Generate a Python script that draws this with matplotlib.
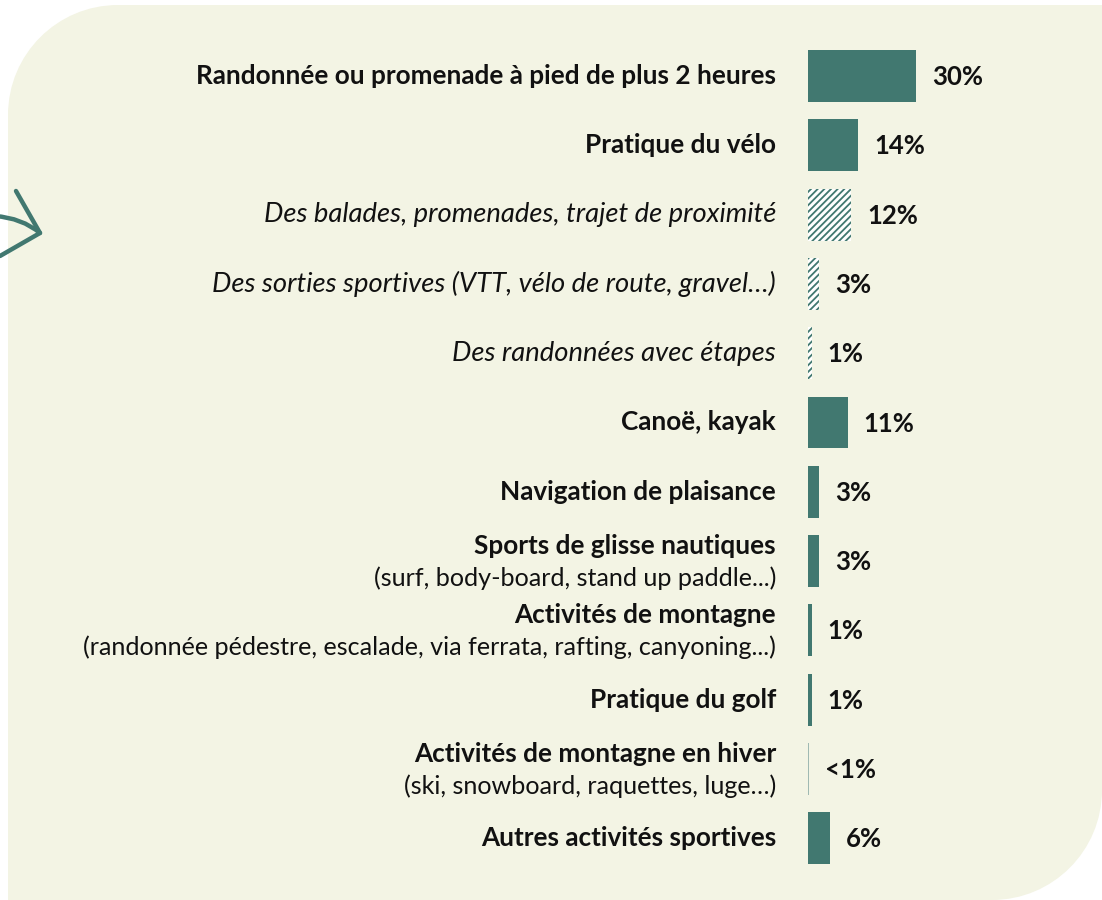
import matplotlib
matplotlib.use("Agg")
from matplotlib import pyplot as plt
from matplotlib.path import Path
from matplotlib.patches import PathPatch
import numpy as np

# activities and share of respondents (%)
labels = [
    "Randonnée ou promenade à pied de plus 2 heures",
    "Pratique du vélo",
    "Des balades, promenades, trajet de proximité",
    "Des sorties sportives (VTT, vélo de route, gravel…)",
    "Des randonnées avec étapes",
    "Canoë, kayak",
    "Navigation de plaisance",
    "Sports de glisse nautiques",
    "Activités de montagne",
    "Pratique du golf",
    "Activités de montagne en hiver",
    "Autres activités sportives",
]
details = ["", "", "", "", "", "", "",
           "(surf, body-board, stand up paddle...)",
           "(randonnée pédestre, escalade, via ferrata, rafting, canyoning...)",
           "",
           "(ski, snowboard, raquettes, luge…)",
           ""]
values = [30, 14, 12, 3, 1, 11, 3, 3, 1, 1, 0.3, 6]
value_text = ["30%", "14%", "12%", "3%", "1%", "11%", "3%", "3%", "1%", "1%", "<1%", "6%"]
# sub-items of "Pratique du vélo"
sub_rows = [2, 3, 4]

teal = "#417870"
cream = "#F3F4E4"
ink = "#111111"
font = "Lato"

W, H = 1102, 900
fig = plt.figure(figsize=(W / 100, H / 100), dpi=100, facecolor="white")

# background panel with rounded corners + arrow tip, in pixel coords
bg = fig.add_axes([0, 0, 1, 1], zorder=0)
bg.set_xlim(0, W)
bg.set_ylim(H, 0)
bg.axis("off")

r = 110
k = 0.5523
verts = [
    (8, H), (8, 5 + r),
    (8, 5 + r * (1 - k)), (8 + r * (1 - k), 5), (8 + r, 5),
    (W, 5), (W, H - r),
    (W, H - r + r * k), (W - r + r * k, H), (W - r, H),
    (8, H),
]
codes = [Path.MOVETO, Path.LINETO,
         Path.CURVE4, Path.CURVE4, Path.CURVE4,
         Path.LINETO, Path.LINETO,
         Path.CURVE4, Path.CURVE4, Path.CURVE4,
         Path.CLOSEPOLY]
bg.add_patch(PathPatch(Path(verts, codes), facecolor=cream, edgecolor="none"))

tip = (40, 233)
bg.plot([16, tip[0], 0], [191, tip[1], 256], color=teal, lw=3.2,
        solid_capstyle="round", solid_joinstyle="round")
shaft = Path([(-5, 216), (22, 218), tip], [Path.MOVETO, Path.CURVE3, Path.CURVE3])
bg.add_patch(PathPatch(shaft, facecolor="none", edgecolor=teal, lw=3.2, capstyle="round"))

# bar axes: left edge at x=808 px, 3.6 px per percent
left_px = 808
px_per_pct = 3.6
ax = fig.add_axes([left_px / W, 0, 1 - left_px / W, 1], zorder=1)
ax.set_xlim(0, (W - left_px) / px_per_pct)
top_c, pitch = 76, 69.3
ax.set_ylim((H - top_c) / pitch, -top_c / pitch)
ax.axis("off")
ax.patch.set_visible(False)

plt.rcParams["hatch.linewidth"] = 1.3
y = np.arange(len(labels))
for i in y:
    if i in sub_rows:
        ax.barh(i, values[i], height=0.75, facecolor="white", edgecolor=teal,
                hatch="/////", linewidth=0)
    elif value_text[i].startswith("<"):
        ax.barh(i, values[i], height=0.75, color="#9fb9b2", linewidth=0)
    else:
        ax.barh(i, values[i], height=0.75, color=teal, linewidth=0)

    ax.annotate(value_text[i], xy=(values[i], i), xytext=(16, -1),
                textcoords="offset pixels", ha="left", va="center",
                fontsize=18.5, fontweight="bold", family=font, color=ink)

    if details[i]:
        ax.annotate(labels[i], xy=(0, i), xytext=(-32, 15),
                    textcoords="offset pixels", ha="right", va="center",
                    fontsize=18.8, fontweight="bold", family=font, color=ink,
                    annotation_clip=False)
        ax.annotate(details[i], xy=(0, i), xytext=(-32, -17),
                    textcoords="offset pixels", ha="right", va="center",
                    fontsize=18.1, family=font, color=ink,
                    annotation_clip=False)
    elif i in sub_rows:
        ax.annotate(labels[i], xy=(0, i), xytext=(-32, 0),
                    textcoords="offset pixels", ha="right", va="center",
                    fontsize=19.7, fontstyle="italic",
                    family=font, color=ink, annotation_clip=False)
    else:
        ax.annotate(labels[i], xy=(0, i), xytext=(-32, 0),
                    textcoords="offset pixels", ha="right", va="center",
                    fontsize=18.8, fontweight="bold",
                    family=font, color=ink, annotation_clip=False)

fig.savefig("out.png", dpi=100, facecolor="white")
